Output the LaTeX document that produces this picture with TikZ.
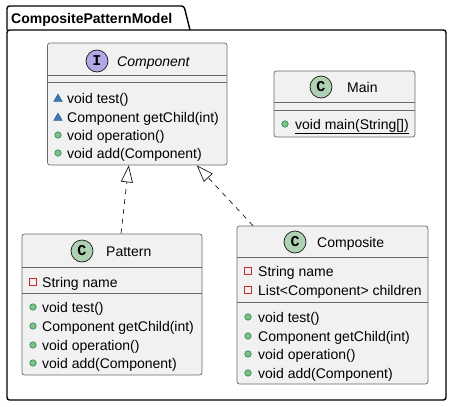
\documentclass[tikz,border=0pt]{standalone}
\usepackage{fontspec}
\setmainfont{Liberation Sans}
\setmonofont{Liberation Mono}
\usepackage{tikz}
\usetikzlibrary{shapes.geometric, arrows.meta}
\definecolor{UMLBack}{HTML}{F1F1F1}
\definecolor{UMLLine}{HTML}{181818}
\definecolor{UMLClassIcon}{HTML}{ADD1B2}
\definecolor{UMLIfaceIcon}{HTML}{B4A7E5}
\definecolor{UMLPubFill}{HTML}{84BE84}
\definecolor{UMLPubLine}{HTML}{038048}
\definecolor{UMLPkgFill}{HTML}{4177AF}
\definecolor{UMLPkgLine}{HTML}{1963A0}
\definecolor{UMLPrvLine}{HTML}{C82930}
\begin{document}
\begin{tikzpicture}[x=1pt, y=-1pt,
      classbox/.style={rectangle, rounded corners=2.5pt, draw=UMLLine!65,
                       line width=0.7pt, fill=UMLBack, inner sep=0pt},
      divider/.style={draw=UMLLine!65, line width=0.7pt},
      badge/.style={circle, draw=UMLLine, line width=0.7pt, minimum size=22pt,
                    inner sep=0pt, font=\fontsize{15}{16}\selectfont\ttfamily\bfseries},
      cname/.style={anchor=west, inner sep=0pt, text height=10pt, text depth=0pt,
                    font=\fontsize{14}{16}\selectfont},
      member/.style={anchor=west, inner sep=0pt, text height=10pt, text depth=0pt,
                     font=\fontsize{14}{16}\selectfont},
      pubicon/.style={circle, fill=UMLPubFill, draw=UMLPubLine, line width=0.5pt,
                      minimum size=6.5pt, inner sep=0pt},
      pkgicon/.style={regular polygon, regular polygon sides=3, fill=UMLPkgFill,
                      draw=UMLPkgLine, line width=0.4pt, minimum size=10pt,
                      inner sep=0pt, yshift=-1pt},
      prvicon/.style={rectangle, draw=UMLPrvLine, line width=0.8pt,
                      minimum size=7pt, inner sep=0pt},
      realize/.style={draw=UMLLine, line width=0.7pt, dash pattern=on 5pt off 5pt,
                      -{Triangle[open, length=17pt, width=12pt]}},
      pkgline/.style={draw=black, line width=1.4pt, rounded corners=2.5pt}
    ]
    \useasboundingbox (0,0) rectangle (451,407);

    % package frame
    \draw[pkgline] (7,30) -- (7,6) -- (184,6) -- (190,30);
    \draw[pkgline] (7,30) rectangle (446,400);
    \node[anchor=base west, inner sep=0pt, font=\fontsize{14}{16}\selectfont\bfseries]
          (pkgname) at (11,23) {CompositePatternModel};

    % class boxes
    \node[classbox, minimum width=179.5pt, minimum height=122pt] (cmp) at (137.25,104) {};
    \node[classbox, minimum width=141pt,   minimum height=66pt]  (mn)  at (344.5,104)  {};
    \node[classbox, minimum width=180pt,   minimum height=141pt] (pat) at (112,304.5)  {};
    \node[classbox, minimum width=191pt,   minimum height=158pt] (cps) at (332.5,305)  {};

    \foreach \n/\y in {cmp/75.5, cmp/82, mn/102, mn/110, pat/267, pat/293, cps/257, cps/302}{
      \draw[divider] (\n.west |- 0,\y) -- (\n.east |- 0,\y);
    }

    % headers
    \node[badge, fill=UMLIfaceIcon] (cmpbadge) at (97,61)  {I};
    \node[cname, font=\fontsize{14}{16}\selectfont\itshape] (cmpname) at (117,61) {Component};
    \node[badge, fill=UMLClassIcon] (mnbadge)  at (321,87)  {C};
    \node[cname] (mnname)  at (347,87)  {Main};
    \node[badge, fill=UMLClassIcon] (patbadge) at (82,251)  {C};
    \node[cname] (patname) at (106,251) {Pattern};
    \node[badge, fill=UMLClassIcon] (cpsbadge) at (295,242) {C};
    \node[cname] (cpsname) at (317,242) {Composite};

    % members
    \foreach \y/\ic/\txt in {98/pkgicon/{void test()}, 117/pkgicon/{Component getChild(int)},
                             135/pubicon/{void operation()}, 153/pubicon/{void add(Component)}}{
      \node[\ic] (cmpi\y) at (58,\y) {};
      \node[member] (cmpm\y) at (67,\y) {\txt};
    }
    \node[pubicon] (mni124) at (285,124) {};
    \node[member] (mnm124) at (295,124) {\underline{void main(String[])}};

    \foreach \y/\ic/\txt in {282/prvicon/{String name}, 307/pubicon/{void test()},
                             326/pubicon/{Component getChild(int)}, 345/pubicon/{void operation()},
                             363/pubicon/{void add(Component)}}{
      \node[\ic] (pati\y) at (33,\y) {};
      \node[member] (patm\y) at (42,\y) {\txt};
    }
    \foreach \y/\ic/\txt in {271/prvicon/{String name}, 290/prvicon/{List<Component> children},
                             317/pubicon/{void test()}, 336/pubicon/{Component getChild(int)},
                             354/pubicon/{void operation()}, 373/pubicon/{void add(Component)}}{
      \node[\ic] (cpsi\y) at (248,\y) {};
      \node[member] (cpsm\y) at (258,\y) {\txt};
    }

    % realizations
    \draw[realize] ([xshift=9pt]pat.north) -- ([xshift=-8.5pt]cmp.south);
    \draw[realize] ([xshift=-79.5pt]cps.north) -- ([xshift=59.5pt]cmp.south);
  \end{tikzpicture}
\end{document}
